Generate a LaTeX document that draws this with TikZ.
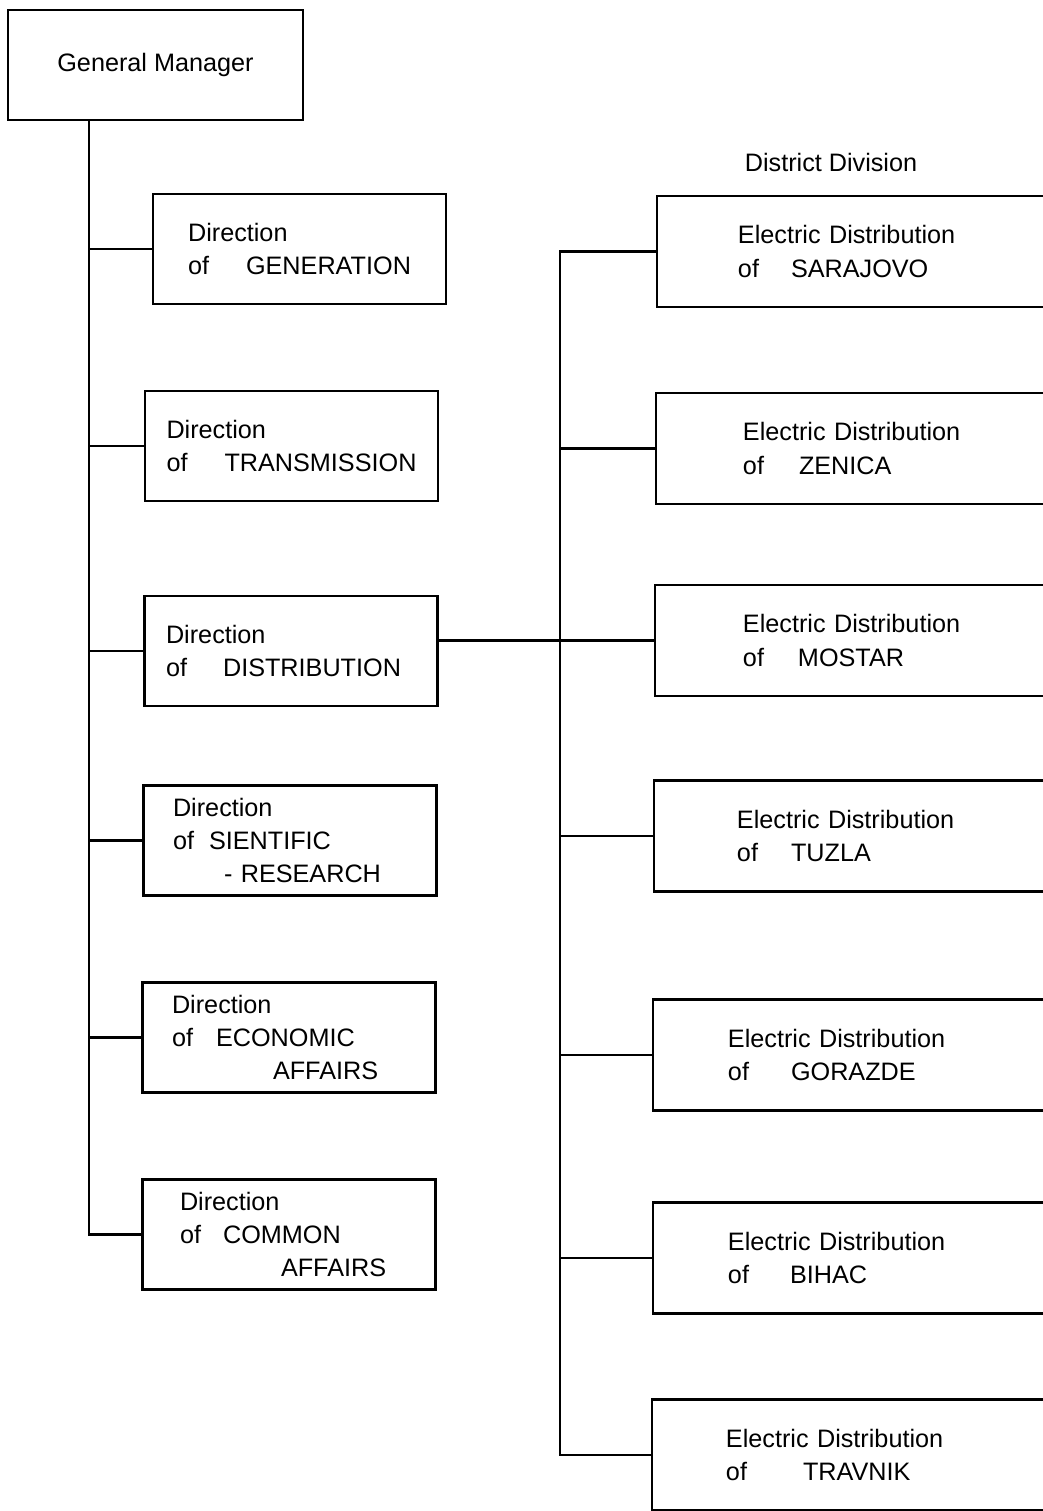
\documentclass[tikz,border=0pt]{standalone}
\usepackage{fontspec}
\setmainfont{Liberation Sans}
\begin{document}
\begin{tikzpicture}[x=0.02cm,y=-0.02cm,line width=1.3pt,
  every node/.style={font=\fontsize{14.3bp}{18.8bp}\selectfont,outer sep=0pt},
  dirbox/.style={draw,align=left,minimum width=5.86cm,minimum height=2.2cm},
  edbox/.style={draw,anchor=west,align=left,text width=5cm,minimum height=2.22cm}]
\useasboundingbox (0,0) rectangle (1043,1511);
\node[dirbox,minimum width=5.9cm] (gm) at (155.5,65) {General Manager};
\node[dirbox] (gen) at (299.5,249) {Direction\\of\hspace{0.74cm}GENERATION};
\node[dirbox] (trans) at (291.5,446) {Direction\\of\hspace{0.74cm}TRANSMISSION};
\node[dirbox,text width=5cm] (dist) at (291,651) {Direction\\of\hspace{0.72cm}DISTRIBUTION};
\node[dirbox,text width=4.68cm] (sci) at (290,840.5) {Direction\\of\hspace{0.3cm}SIENTIFIC\\\hspace*{1.02cm}- RESEARCH};
\node[dirbox,text width=4.68cm] (econ) at (289,1037.5) {Direction\\of\hspace{0.46cm}ECONOMIC\\\hspace*{2.02cm}AFFAIRS};
\node[dirbox,text width=4.36cm] (comm) at (289,1234.5) {Direction\\of\hspace{0.44cm}COMMON\\\hspace*{2.02cm}AFFAIRS};
\node (dd) at (831,162) {District Division};
\node[edbox,inner xsep=1.62cm] (sar) at (657,251.5) {Electric Distribution\\of\hspace{0.64cm}SARAJOVO};
\node[edbox,inner xsep=1.74cm] (zen) at (656,448.5) {Electric Distribution\\of\hspace{0.7cm}ZENICA};
\node[edbox,inner xsep=1.76cm] (mos) at (655,640.5) {Electric Distribution\\of\hspace{0.68cm}MOSTAR};
\node[edbox,inner xsep=1.66cm] (tuz) at (654,836) {Electric Distribution\\of\hspace{0.66cm}TUZLA};
\node[edbox,inner xsep=1.5cm] (gor) at (653,1055) {Electric Distribution\\of\hspace{0.84cm}GORAZDE};
\node[edbox,inner xsep=1.5cm] (bih) at (653,1258) {Electric Distribution\\of\hspace{0.82cm}BIHAC};
\node[edbox,inner xsep=1.48cm] (trav) at (652,1455) {Electric Distribution\\of\hspace{1.12cm}TRAVNIK};
\coordinate (trunk) at (89,120);
\coordinate (bus) at (560,641);
% left side
\draw (trunk) |- (comm.west);
\foreach \n in {gen,trans,dist,sci,econ}
  \draw (\n.west) -- (\n.west -| trunk);
% right side
\draw (sar.west) -- (sar.west -| bus) |- (trav.west);
\foreach \n in {zen,tuz,gor,bih}
  \draw (\n.west) -- (\n.west -| bus);
\draw (mos.west) -- (mos.west -| dist.east);
\end{tikzpicture}
\end{document}
